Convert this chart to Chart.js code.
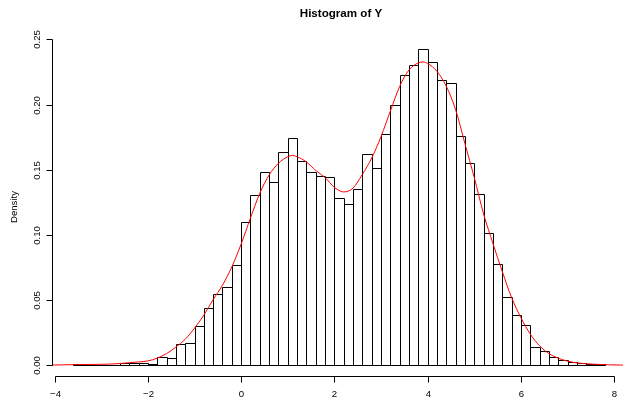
<!DOCTYPE html>
<html>
<head>
<meta charset="utf-8">
<script src="https://cdn.jsdelivr.net/npm/chart.js@4.4.1/dist/chart.umd.min.js"></script>
<style>
  html, body { margin: 0; padding: 0; background: #ffffff; }
  #wrap { width: 623px; height: 398px; }
</style>
</head>
<body>
<div id="wrap"><canvas id="c" width="623" height="398"></canvas></div>
<script>
// Histogram bins (left edges, width 0.2) and densities
const binLeft = [-3.6,-3.4,-3.2,-3.0,-2.8,-2.6,-2.4,-2.2,-2.0,-1.8,-1.6,-1.4,-1.2,-1.0,-0.8,-0.6,-0.4,-0.2,
  0.0,0.2,0.4,0.6,0.8,1.0,1.2,1.4,1.6,1.8,2.0,2.2,2.4,2.6,2.8,3.0,3.2,3.4,3.6,3.8,4.0,4.2,4.4,4.6,4.8,
  5.0,5.2,5.4,5.6,5.8,6.0,6.2,6.4,6.6,6.8,7.0,7.2,7.4,7.6];
const binWidth = 0.2;
const density = [0.0009,0,0,0,0,0.0015,0.002,0.002,0.0012,0.0062,0.0058,0.016,0.017,0.030,0.044,0.055,0.0604,0.0772,
  0.110,0.1306,0.148,0.141,0.164,0.1746,0.1565,0.148,0.145,0.1444,0.128,0.1235,0.1355,0.1618,0.1516,0.1777,0.200,
  0.2224,0.230,0.2429,0.2323,0.219,0.2168,0.1756,0.1551,0.1311,0.1015,0.0775,0.0527,0.0383,0.0307,0.014,0.0107,
  0.0064,0.0044,0.0028,0.0018,0.0013,0.001];

// Kernel density curve
const kdeX = [-4.1,-3.8,-3.5,-3.2,-3.0,-2.8,-2.6,-2.4,-2.2,-2.0,-1.8,-1.6,-1.4,-1.2,-1.0,-0.8,-0.6,-0.4,-0.2,
  0.0,0.2,0.4,0.6,0.8,1.0,1.1,1.2,1.4,1.6,1.8,2.0,2.2,2.4,2.6,2.8,3.0,3.2,3.4,3.6,3.8,3.9,4.0,4.2,4.4,4.6,4.8,
  5.0,5.2,5.4,5.6,5.8,6.0,6.2,6.4,6.6,6.8,7.0,7.2,7.4,7.6,7.9,8.2];
const kdeY = [0.0002,0.0004,0.0006,0.0007,0.0008,0.0010,0.0014,0.0020,0.0026,0.0034,0.0055,0.0090,0.0140,0.0200,
  0.0285,0.0385,0.0505,0.0615,0.0755,0.0930,0.1130,0.1320,0.1460,0.1550,0.1600,0.1610,0.1600,0.1560,0.1495,0.1440,
  0.1365,0.1330,0.1360,0.1465,0.1590,0.1755,0.1950,0.2140,0.2265,0.2320,0.2327,0.2315,0.2255,0.2140,0.1960,0.1700,
  0.1440,0.1160,0.0935,0.0720,0.0520,0.0365,0.0240,0.0150,0.0090,0.0055,0.0032,0.0019,0.0012,0.0008,0.0004,0.0002];

const xTicks = [-4,-2,0,2,4,6,8];
const yTicks = [0.00,0.05,0.10,0.15,0.20,0.25];
const yTickLabels = ["0.00","0.05","0.10","0.15","0.20","0.25"];
const titleText = "Histogram of Y";
const yTitle = "Density";

const FONT = '"Liberation Sans", Arial, Helvetica, sans-serif';

const barData = binLeft.map((l, i) => ({ x: l + binWidth / 2, y: density[i] }));
const lineData = kdeX.map((x, i) => ({ x: x, y: kdeY[i] }));

const rAxes = {
  id: 'rAxes',
  afterDatasetDraw(chart, args) {
    if (args.index !== 0) return;
    const ctx = chart.ctx;
    const meta = chart.getDatasetMeta(0);
    ctx.save();
    ctx.strokeStyle = '#000';
    ctx.lineWidth = 1;
    meta.data.forEach((bar) => {
      const p = bar.getProps(['x', 'y', 'base', 'width'], true);
      const l = Math.round(p.x - p.width / 2) + 0.5;
      const r = Math.round(p.x + p.width / 2) + 0.5;
      const t = Math.round(p.y) + 0.5;
      const b = Math.round(p.base) + 0.5;
      ctx.beginPath();
      ctx.moveTo(l, b); ctx.lineTo(l, t); ctx.lineTo(r, t); ctx.lineTo(r, b); ctx.closePath();
      ctx.stroke();
    });
    ctx.restore();
  },
  afterDraw(chart) {
    const ctx = chart.ctx;
    const xs = chart.scales.x, ys = chart.scales.y;
    const area = chart.chartArea;
    ctx.save();
    ctx.strokeStyle = '#000';
    ctx.fillStyle = '#000';
    ctx.lineWidth = 1;
    // x axis
    const axY = Math.round(area.bottom) - 1.5;
    const x0 = Math.round(xs.getPixelForValue(xTicks[0])) + 0.5;
    const x1 = Math.round(xs.getPixelForValue(xTicks[xTicks.length - 1])) + 0.5;
    ctx.beginPath(); ctx.moveTo(x0, axY); ctx.lineTo(x1, axY); ctx.stroke();
    ctx.font = '9.6px ' + FONT;
    ctx.textAlign = 'center'; ctx.textBaseline = 'alphabetic';
    xTicks.forEach((v) => {
      const px = Math.round(xs.getPixelForValue(v)) + 0.5;
      ctx.beginPath(); ctx.moveTo(px, axY); ctx.lineTo(px, axY + 6); ctx.stroke();
      ctx.fillText(String(v).replace('-', '\u2212'), px, 397);
    });
    // y axis
    const axX = Math.round(area.left) + 0.5;
    const y0 = Math.round(ys.getPixelForValue(yTicks[0])) + 0.5;
    const y1 = Math.round(ys.getPixelForValue(yTicks[yTicks.length - 1])) + 0.5;
    ctx.beginPath(); ctx.moveTo(axX, y0); ctx.lineTo(axX, y1); ctx.stroke();
    yTicks.forEach((v, i) => {
      const py = Math.round(ys.getPixelForValue(v)) + 0.5;
      ctx.beginPath(); ctx.moveTo(axX, py); ctx.lineTo(axX - 6, py); ctx.stroke();
      ctx.save();
      ctx.translate(40, py);
      ctx.rotate(-Math.PI / 2);
      ctx.fillText(yTickLabels[i], 0, 0);
      ctx.restore();
    });
    // y title
    ctx.save();
    ctx.translate(17, (area.top + area.bottom) / 2);
    ctx.rotate(-Math.PI / 2);
    ctx.fillText(yTitle, 0, 0);
    ctx.restore();
    // baseline across all bins
    const bl = Math.round(xs.getPixelForValue(binLeft[0])) + 0.5;
    const br = Math.round(xs.getPixelForValue(binLeft[binLeft.length - 1] + binWidth)) + 0.5;
    const by = Math.round(ys.getPixelForValue(0)) + 0.5;
    ctx.beginPath(); ctx.moveTo(bl, by); ctx.lineTo(br, by); ctx.stroke();
    // title
    ctx.font = 'bold 11.6px ' + FONT;
    ctx.fillText(titleText, 341, 16.7);
    ctx.restore();
  }
};

new Chart(document.getElementById('c'), {
  data: {
    datasets: [
      {
        type: 'bar',
        data: barData,
        backgroundColor: 'rgba(0,0,0,0)',
        borderWidth: 0,
        barPercentage: 1.0,
        categoryPercentage: 1.0,
        order: 2
      },
      {
        type: 'line',
        data: lineData,
        borderColor: '#ff0000',
        borderWidth: 1,
        pointRadius: 0,
        fill: false,
        cubicInterpolationMode: 'monotone',
        order: 1
      }
    ]
  },
  options: {
    responsive: false,
    animation: false,
    devicePixelRatio: 1,
    layout: { padding: { left: 52, right: 0, top: 36, bottom: 20 } },
    plugins: { legend: { display: false }, tooltip: { enabled: false }, title: { display: false } },
    scales: {
      x: { type: 'linear', display: false, min: -4.056, max: 8.189, offset: false },
      y: { type: 'linear', display: false, min: -0.0097, max: 0.2526 }
    }
  },
  plugins: [rAxes]
});
</script>
</body>
</html>
